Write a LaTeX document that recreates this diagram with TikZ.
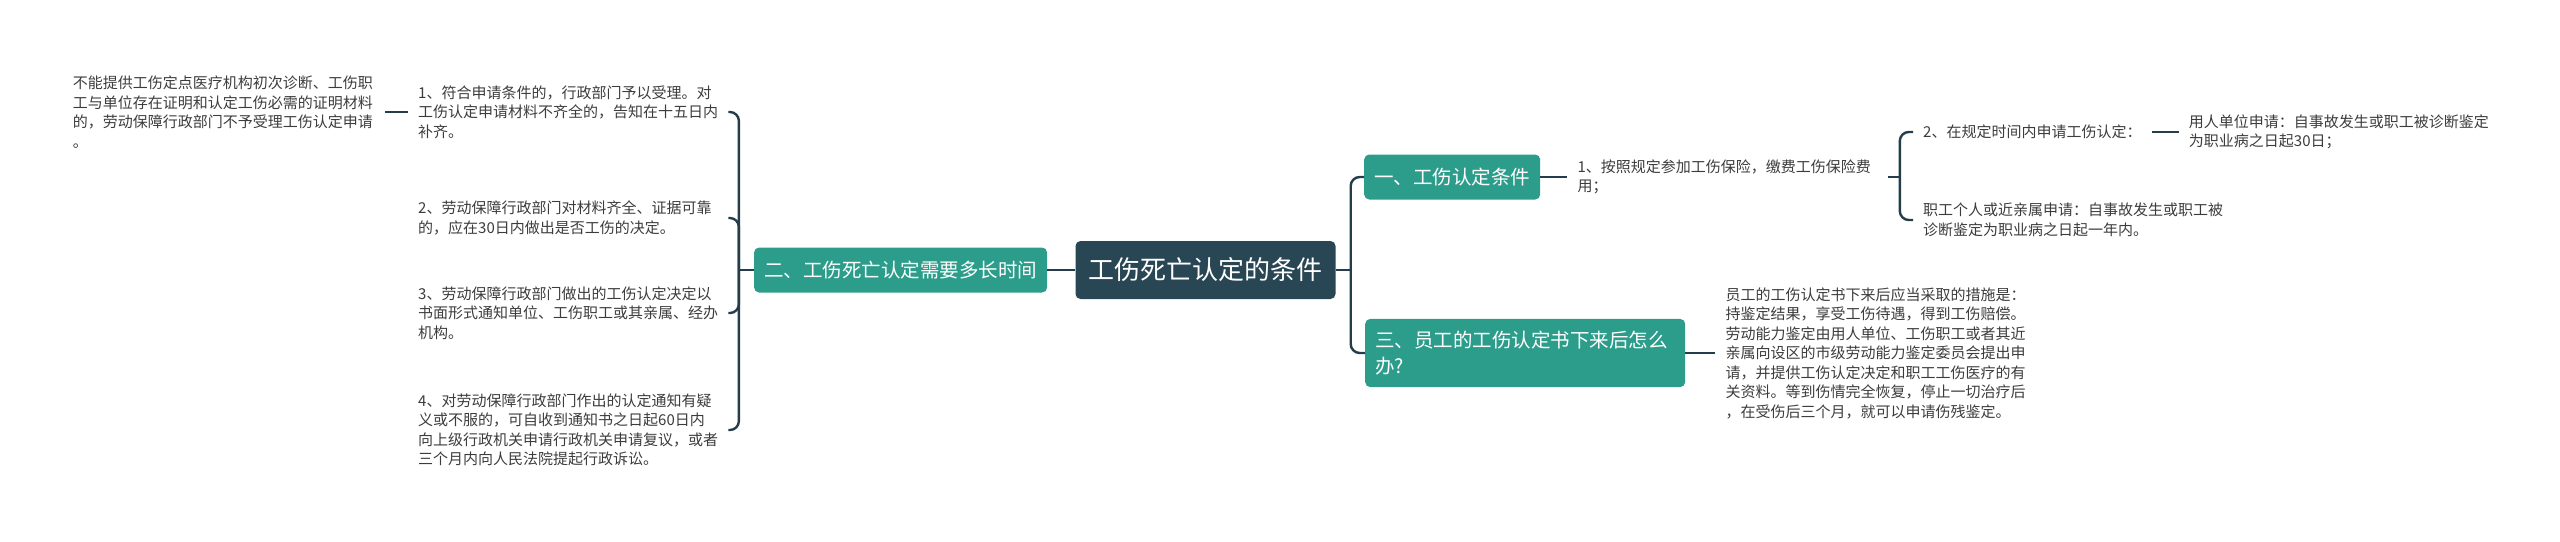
\documentclass[tikz,border=0pt]{standalone}
\usepackage{fontspec}
\setmainfont{Noto Sans CJK SC}
\usetikzlibrary{positioning}
\definecolor{rootfill}{HTML}{284654}
\definecolor{branchfill}{HTML}{2D9D8B}
\definecolor{linkcol}{HTML}{233D4B}
\definecolor{leaftext}{HTML}{3C3C3C}
\tikzset{
  rootbox/.style={rectangle, rounded corners=5pt, fill=rootfill, text=white, font=\fontsize{26}{30}\selectfont, inner xsep=13pt, minimum height=58pt},
  branch/.style={rectangle, rounded corners=5pt, fill=branchfill, text=white, font=\fontsize{19.5}{26}\selectfont, inner xsep=10pt, inner ysep=12pt, minimum height=45pt, align=left},
  leaf/.style={font=\fontsize{15}{19.5}\selectfont, text=leaftext, inner xsep=10pt, inner ysep=2pt, align=left},
  link/.style={draw=linkcol, line width=2.4pt, rounded corners=9pt}
}
\begin{document}
\begin{tikzpicture}[x=1pt, y=-1pt]
  \useasboundingbox (0,0) rectangle (2560,541);

  % --- centre ---
  \node (root) [rootbox] at (1205.5,270) {工伤死亡认定的条件};

  % --- left: time limits ---
  \node (left2) [branch, left=28pt of root] {二、工伤死亡认定需要多长时间};
  \coordinate [left=15pt of left2.west] (lj);
  \node (c1) [leaf, text width=300pt, anchor=west] at (408,112) {1、符合申请条件的，行政部门予以受理。对\\工伤认定申请材料不齐全的，告知在十五日内\\补齐。};
  \node (c2) [leaf, text width=300pt, anchor=west] at (408,218) {2、劳动保障行政部门对材料齐全、证据可靠\\的，应在30日内做出是否工伤的决定。};
  \node (c3) [leaf, text width=300pt, anchor=west] at (408,313) {3、劳动保障行政部门做出的工伤认定决定以\\书面形式通知单位、工伤职工或其亲属、经办\\机构。};
  \node (c4) [leaf, text width=300pt, anchor=west] at (408,430) {4、对劳动保障行政部门作出的认定通知有疑\\义或不服的，可自收到通知书之日起60日内\\向上级行政机关申请行政机关申请复议，或者\\三个月内向人民法院提起行政诉讼。};
  \node (c1a) [leaf, text width=302pt, left=23pt of c1] {不能提供工伤定点医疗机构初次诊断、工伤职\\工与单位存在证明和认定工伤必需的证明材料\\的，劳动保障行政部门不予受理工伤认定申请\\。};

  \draw [link] (root) -- (left2);
  \draw [link] (left2) -- (lj);
  \foreach \c in {c1,c2,c3,c4}
    \draw [link] (lj) |- (\c);
  \draw [link] (c1a) -- (c1);

  % --- right: conditions and afterwards ---
  \coordinate [right=15pt of root.east] (rj);
  \node (r1) [branch, anchor=west] at (1364,177) {一、工伤认定条件};
  \node (r3) [branch, text width=300pt, anchor=west] at (1365,353) {三、员工的工伤认定书下来后怎么\\办?};
  \draw [link] (root) -- (rj);
  \draw [link] (rj) |- (r1);
  \draw [link] (rj) |- (r3);

  \node (r1a) [leaf, text width=300pt, right=27pt of r1] {1、按照规定参加工伤保险，缴费工伤保险费\\用；};
  \coordinate [right=12pt of r1a.east] (rj2);
  \node (r1b) [leaf, anchor=west] at (1913,132) {2、在规定时间内申请工伤认定：};
  \node (r1c) [leaf, text width=302pt, anchor=west] at (1913,220) {职工个人或近亲属申请：自事故发生或职工被\\诊断鉴定为职业病之日起一年内。};
  \node (r1b1) [leaf, text width=302pt, right=27pt of r1b] {用人单位申请：自事故发生或职工被诊断鉴定\\为职业病之日起30日；};
  \draw [link] (r1) -- (r1a);
  \draw [link] (r1a) -- (rj2);
  \draw [link] (rj2) |- (r1b);
  \draw [link] (rj2) |- (r1c);
  \draw [link] (r1b) -- (r1b1);

  \node (r3a) [leaf, text width=302pt, right=30pt of r3] {员工的工伤认定书下来后应当采取的措施是：\\持鉴定结果，享受工伤待遇，得到工伤赔偿。\\劳动能力鉴定由用人单位、工伤职工或者其近\\亲属向设区的市级劳动能力鉴定委员会提出申\\请，并提供工伤认定决定和职工工伤医疗的有\\关资料。等到伤情完全恢复，停止一切治疗后\\，在受伤后三个月，就可以申请伤残鉴定。};
  \draw [link] (r3) -- (r3a);
\end{tikzpicture}
\end{document}
